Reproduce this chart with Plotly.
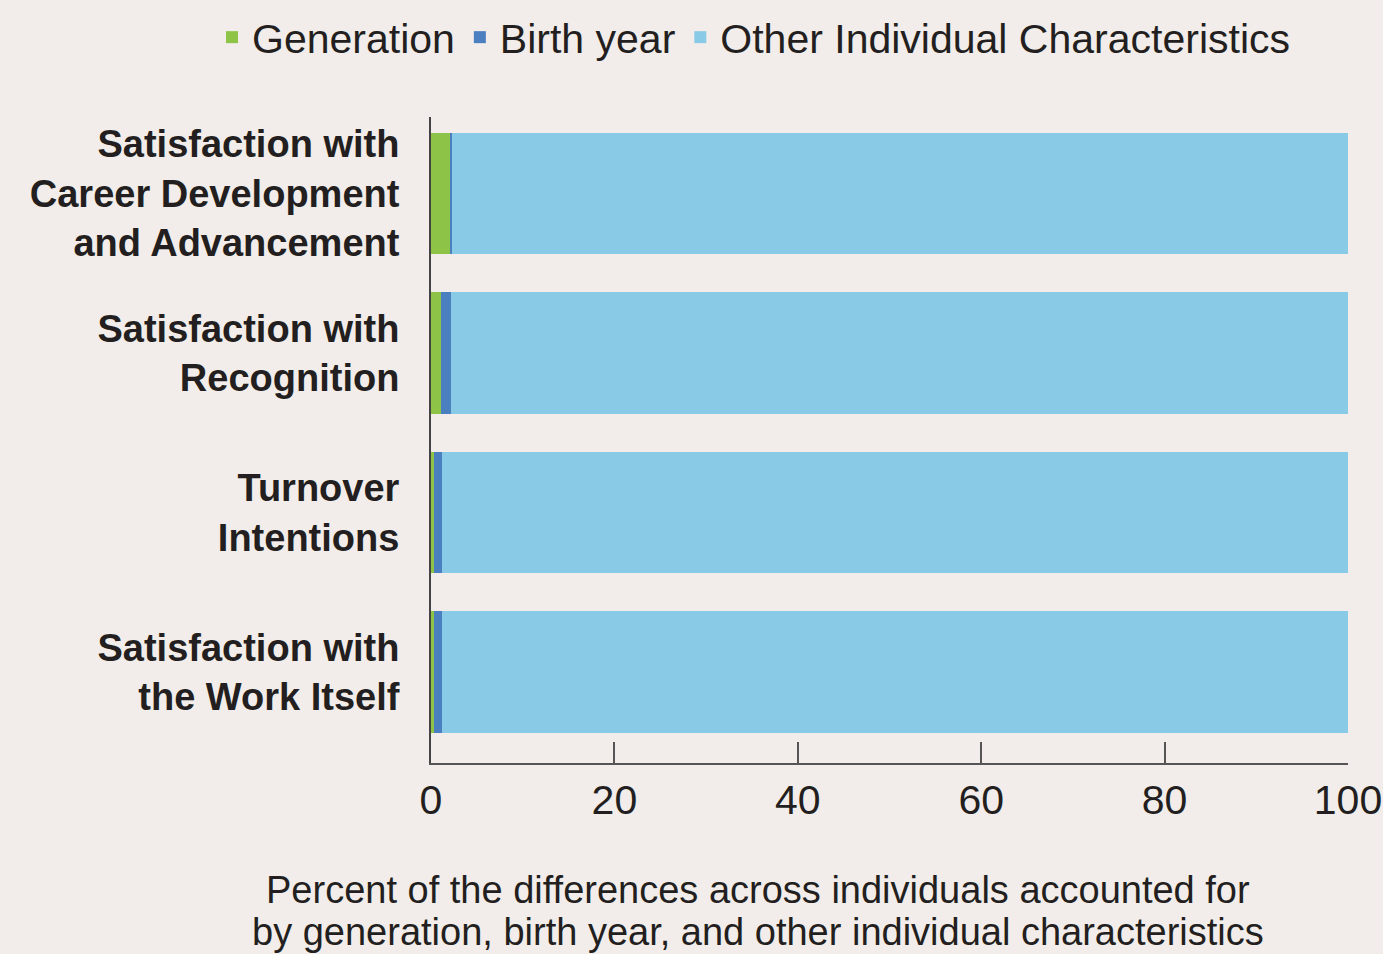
import plotly.graph_objects as go

categories = [
    "Satisfaction with<br>Career Development<br>and Advancement",
    "Satisfaction with<br>Recognition",
    "Turnover<br>Intentions",
    "Satisfaction with<br>the Work Itself",
]
generation = [2.1, 1.1, 0.3, 0.3]
birth_year = [0.2, 1.1, 0.9, 0.9]
other = [97.7, 97.8, 98.8, 98.8]
x_ticks = [0, 20, 40, 60, 80, 100]
axis_title_lines = [
    "Percent of the differences across individuals accounted for",
    "by generation, birth year, and other individual characteristics",
]

FONT = "Liberation Sans, Arial, sans-serif"
TXT = "#231f20"
BG = "#f2edea"
PLOT_LEFT, PLOT_RIGHT = 431, 1348
PLOT_TOP, PLOT_BOTTOM = 117, 763
PW, PH = PLOT_RIGHT - PLOT_LEFT, PLOT_BOTTOM - PLOT_TOP

fig = go.Figure()
for name, vals, col in [
    ("Generation", generation, "#8dc447"),
    ("Birth year", birth_year, "#4a7fc0"),
    ("Other Individual Characteristics", other, "#89cae6"),
]:
    fig.add_trace(go.Bar(y=categories, x=vals, name=name, orientation="h",
                         marker=dict(color=col, line=dict(width=0))))

fig.update_layout(
    barmode="stack",
    bargap=0.24,
    width=1383, height=954,
    paper_bgcolor=BG, plot_bgcolor=BG,
    margin=dict(l=PLOT_LEFT, r=1383 - PLOT_RIGHT, t=PLOT_TOP, b=954 - PLOT_BOTTOM,
                autoexpand=False),
    font=dict(family=FONT, color=TXT),
    showlegend=True,
    legend=dict(orientation="h", xref="paper", yref="paper",
                x=(212 - PLOT_LEFT) / PW, xanchor="left",
                y=1 + (PLOT_TOP - 4) / PH, yanchor="top",
                font=dict(size=41, color=TXT), traceorder="normal",
                bgcolor="rgba(0,0,0,0)", itemwidth=30),
    xaxis=dict(range=[0, 100], tickvals=x_ticks, ticks="inside", ticklen=21,
               tickcolor="#555", tickwidth=1.5, showgrid=False, zeroline=False,
               showline=True, linecolor="#555", linewidth=1.5, automargin=False,
               tickfont=dict(size=41, color=TXT)),
    yaxis=dict(categoryorder="array", categoryarray=categories,
               range=[3.57, -0.48], showgrid=False, zeroline=False,
               showline=True, linecolor="#444", linewidth=2, ticks="",
               ticklabelstandoff=22, automargin=False,
               tickfont=dict(size=38, color=TXT, family=FONT, weight="bold")),
)
for line, ypx in zip(axis_title_lines, [890, 932]):
    fig.add_annotation(
        text=line, xref="paper", yref="paper", x=0.357,
        y=(PLOT_BOTTOM - ypx) / PH,
        xanchor="center", yanchor="middle", showarrow=False,
        font=dict(size=38, color=TXT))

fig.write_html("out.html", config={"displayModeBar": False},
               post_script="document.body.style.margin='0';")
